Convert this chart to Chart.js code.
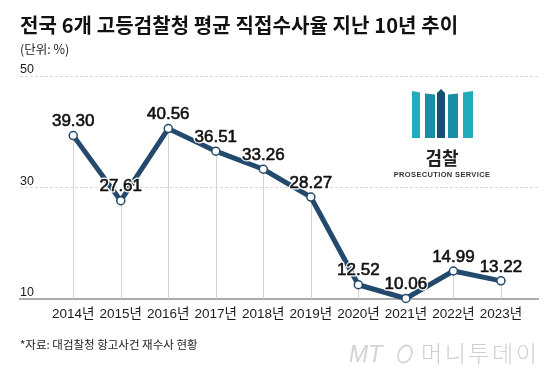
<!DOCTYPE html>
<html>
<head>
<meta charset="utf-8">
<script src="https://cdn.jsdelivr.net/npm/chart.js@4.4.1/dist/chart.umd.min.js"></script>
<style>
  html, body { margin: 0; padding: 0; background: #fff; }
  #wrap { position: relative; width: 560px; height: 381px; overflow: hidden; background: #fff; }
  #chart { position: absolute; left: 0; top: 0; }
  .txt { position: absolute; white-space: nowrap; font-family: "Noto Sans CJK KR", "Liberation Sans", sans-serif; }
  #title { left: 20px; top: 12px; font-size: 20px; font-weight: 700; line-height: 26px; color: #111; letter-spacing: 0.1px; }
  #unit { left: 20px; top: 41px; font-size: 12.5px; line-height: 16px; color: #222; }
  #source { left: 20px; top: 336px; font-size: 11.5px; line-height: 16px; color: #222; }
  #logoName { left: 405px; width: 74px; text-align: center; top: 146px; font-size: 18px; font-weight: 700; line-height: 22px; color: #222; }
  #logoSub { left: 392px; width: 100px; text-align: center; top: 170px; font-family: "Liberation Sans", sans-serif; font-size: 7.5px; font-weight: 700; line-height: 10px; color: #333; letter-spacing: 0.35px; }
  #mt { left: 349px; top: 339px; font-family: "Liberation Sans", sans-serif; font-style: italic; font-size: 23px; line-height: 30px; color: #d2d2d2; }
  #mtName { left: 421px; top: 337px; font-size: 23px; font-weight: 300; line-height: 30px; color: #cfcfcf; letter-spacing: 2.5px; }
  svg { position: absolute; left: 0; top: 0; }
</style>
</head>
<body>
<div id="wrap">
  <canvas id="chart" width="560" height="381"></canvas>
  <div class="txt" id="title">전국 6개 고등검찰청 평균 직접수사율 지난 10년 추이</div>
  <div class="txt" id="unit">(단위: %)</div>
  <div class="txt" id="source">*자료: 대검찰청 항고사건 재수사 현황</div>
  <svg width="560" height="381">
    <polygon points="412,91 420,92.5 420,138 412,138" fill="#21abbb"/>
    <polygon points="425,93.5 435,94.5 435,138 425,138" fill="#1a8ea4"/>
    <polygon points="437,93 441,89 445,93 445,138 437,138" fill="#17506f"/>
    <polygon points="448,94.5 458,93.5 458,138 448,138" fill="#1a8ea4"/>
    <polygon points="463,92.5 473,91 473,138 463,138" fill="#21abbb"/>
    <ellipse cx="405" cy="354" rx="6.5" ry="9" fill="none" stroke="#d2d2d2" stroke-width="1.6" transform="rotate(25 405 354)"/>
  </svg>
  <div class="txt" id="logoName">검찰</div>
  <div class="txt" id="logoSub">PROSECUTION SERVICE</div>
  <div class="txt" id="mt">MT</div>
  <div class="txt" id="mtName">머니투데이</div>
</div>
<script>
// ---- data ----
const years = [2014, 2015, 2016, 2017, 2018, 2019, 2020, 2021, 2022, 2023];
const yearLabels = ['2014년', '2015년', '2016년', '2017년', '2018년', '2019년', '2020년', '2021년', '2022년', '2023년'];
const rates = [39.30, 27.61, 40.56, 36.51, 33.26, 28.27, 12.52, 10.06, 14.99, 13.22];
const yTicks = [10, 30, 50];

const LINE = '#23496c';

const dropLines = {
  id: 'dropLines',
  beforeDatasetsDraw(chart) {
    const ctx = chart.ctx;
    const bottom = chart.chartArea.bottom;
    const meta = chart.getDatasetMeta(0);
    ctx.save();
    ctx.strokeStyle = '#d4d4d4';
    ctx.lineWidth = 1;
    meta.data.forEach(pt => {
      const x = Math.round(pt.x) + 0.5;
      ctx.beginPath();
      ctx.moveTo(x, pt.y);
      ctx.lineTo(x, bottom);
      ctx.stroke();
    });
    ctx.restore();
  }
};

const valueLabels = {
  id: 'valueLabels',
  afterDatasetsDraw(chart) {
    const ctx = chart.ctx;
    const meta = chart.getDatasetMeta(0);
    ctx.save();
    ctx.font = '17px "Liberation Sans Narrow", "Liberation Sans", sans-serif';
    ctx.textAlign = 'center';
    ctx.textBaseline = 'middle';
    ctx.lineJoin = 'round';
    meta.data.forEach((pt, i) => {
      const t = rates[i].toFixed(2);
      const y = pt.y - 14;
      ctx.lineWidth = 3;
      ctx.strokeStyle = '#fff';
      ctx.strokeText(t, pt.x, y);
      ctx.fillStyle = '#111';
      ctx.fillText(t, pt.x, y);
      ctx.lineWidth = 0.6;
      ctx.strokeStyle = '#111';
      ctx.strokeText(t, pt.x, y);
    });
    ctx.restore();
  }
};

new Chart(document.getElementById('chart'), {
  type: 'line',
  data: {
    datasets: [{
      data: years.map((y, i) => ({ x: y, y: rates[i] })),
      borderColor: LINE,
      borderWidth: 5,
      tension: 0,
      pointRadius: 4,
      pointBackgroundColor: '#fff',
      pointBorderColor: LINE,
      pointBorderWidth: 1.5,
      clip: false
    }]
  },
  options: {
    responsive: false,
    animation: false,
    devicePixelRatio: 1,
    layout: { padding: { top: 76, left: 20, right: 22, bottom: 52 } },
    plugins: { legend: { display: false }, tooltip: { enabled: false } },
    scales: {
      x: {
        type: 'linear',
        min: 2012.88,
        max: 2023.78,
        afterBuildTicks: s => { s.ticks = years.map(v => ({ value: v })); },
        grid: { display: false, drawTicks: false },
        border: { display: true, color: '#ababab', width: 2 },
        ticks: {
          autoSkip: false,
          maxRotation: 0,
          padding: 7,
          color: '#1a1a1a',
          font: { family: '"Liberation Sans", "Noto Sans CJK KR", sans-serif', size: 13.5 },
          callback: v => yearLabels[years.indexOf(v)]
        }
      },
      y: {
        min: 10,
        max: 50,
        afterBuildTicks: s => { s.ticks = yTicks.map(v => ({ value: v })); },
        grid: {
          drawTicks: false,
          color: c => (c.tick && c.tick.value === 10) ? 'rgba(0,0,0,0)' : '#dadada',
          lineWidth: 1
        },
        border: { display: false, dash: [3, 2] },
        ticks: {
          mirror: true,
          padding: 0,
          labelOffset: -6,
          color: '#1a1a1a',
          font: { family: '"Liberation Sans", sans-serif', size: 12.5 }
        }
      }
    }
  },
  plugins: [dropLines, valueLabels]
});
</script>
</body>
</html>
